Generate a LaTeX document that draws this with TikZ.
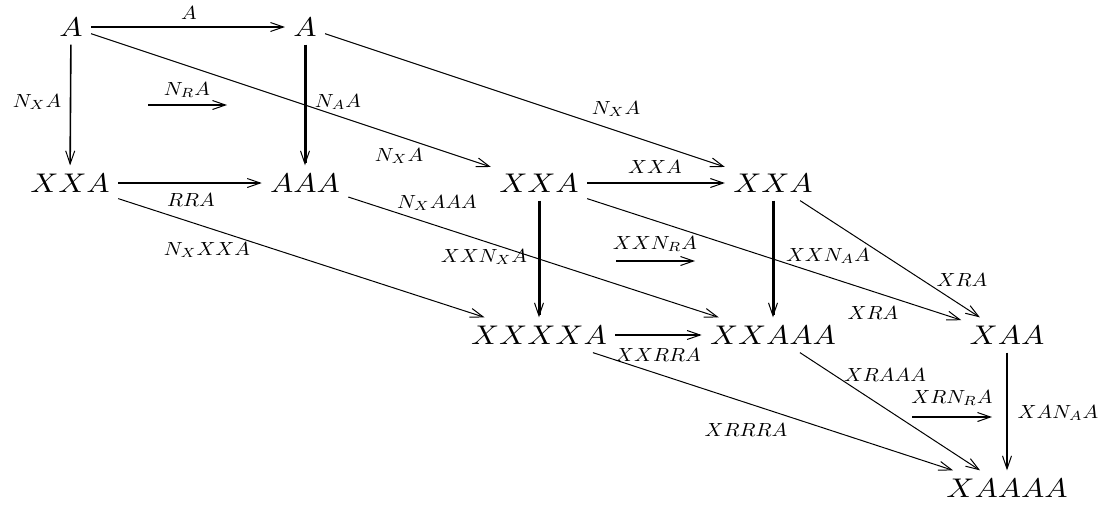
\documentclass[tikz,border=0pt]{standalone}
\usepackage{graphicx}
\usetikzlibrary{arrows.meta}
\newcommand{\obj}[1]{\scalebox{1.55}[1.35]{$#1$}}
\newcommand{\lab}[1]{\scalebox{1.045}[0.95]{$#1$}}
\begin{document}
\begin{tikzpicture}[x=0.5pt,y=-0.5pt,
  ob/.style={inner sep=4pt},
  lb/.style={inner sep=0pt},
  ar/.style={-{Straight Barb[length=6.5pt,width=4.5pt,line width=0.5pt]}, line width=0.8pt},
  thk/.style={ar, line width=1.5pt},
  dg/.style={ar, line width=0.5pt}]
\useasboundingbox (0,0) rectangle (1107,510);
% objects
\node[ob] (a0) at (71,27) {\obj{A}};
\node[ob] (a1) at (305,27) {\obj{A}};
\node[ob] (b0) at (70,183) {\obj{XXA}};
\node[ob] (b1) at (305,183) {\obj{AAA}};
\node[ob] (b2) at (539,183) {\obj{XXA}};
\node[ob] (b3) at (773,183) {\obj{XXA}};
\node[ob] (c2) at (539,335) {\obj{XXXXA}};
\node[ob] (c3) at (773,335) {\obj{XXAAA}};
\node[ob] (c4) at (1007,335) {\obj{XAA}};
\node[ob] (d4) at (1007,488) {\obj{XAAAA}};
% free arrows
\coordinate (n1s) at (148,105); \coordinate (n1e) at (227,105);
\coordinate (n2s) at (616,261); \coordinate (n2e) at (695,261);
\coordinate (n3s) at (912,417); \coordinate (n3e) at (992,417);
% connectors
\draw[ar] (a0) -- (a1);
\draw[ar] (a0) -- (b0);
\draw[thk] (a1) -- (b1);
\draw[ar] (b0) -- (b1);
\draw[dg] (a0) -- (b2);
\draw[dg] (a1) -- (b3);
\draw[dg] (b0) -- (c2);
\draw[dg] (b1) -- (c3);
\draw[ar] (b2) -- (b3);
\draw[thk] (b2) -- (c2);
\draw[thk] (b3) -- (c3);
\draw[dg] (b2) -- (c4);
\draw[dg] (b3) -- (c4);
\draw[ar] (c2) -- (c3);
\draw[dg] (c2) -- (d4);
\draw[dg] (c3) -- (d4);
\draw[ar] (c4) -- (d4);
\draw[ar] (n1s) -- (n1e);
\draw[ar] (n2s) -- (n2e);
\draw[ar] (n3s) -- (n3e);
% labels
\node[lb] (l1) at (189,13) {\lab{A}};
\node[lb] (l2) at (37,102) {\lab{N_XA}};
\node[lb] (l3) at (187,90) {\lab{N_RA}};
\node[lb] (l4) at (338,102) {\lab{N_AA}};
\node[lb] (l5) at (191,200) {\lab{RRA}};
\node[lb] (l6) at (616,109) {\lab{N_XA}};
\node[lb] (l7) at (399,156) {\lab{N_XA}};
\node[lb] (l8) at (655,167) {\lab{XXA}};
\node[lb] (l9) at (437,203) {\lab{N_XAAA}};
\node[lb] (l10) at (207,250) {\lab{N_XXXA}};
\node[lb] (l11) at (484,257) {\lab{XXN_XA}};
\node[lb] (l12) at (655,244) {\lab{XXN_RA}};
\node[lb] (l13) at (828,256) {\lab{XXN_AA}};
\node[lb] (l14) at (962,280) {\lab{XRA}};
\node[lb] (l15) at (873,313) {\lab{XRA}};
\node[lb] (l16) at (658,355) {\lab{XXRRA}};
\node[lb] (l17) at (885,375) {\lab{XRAAA}};
\node[lb] (l18) at (952,398) {\lab{XRN_RA}};
\node[lb] (l19) at (1058,413) {\lab{XAN_AA}};
\node[lb] (l20) at (746,430) {\lab{XRRRA}};
\end{tikzpicture}
\end{document}
